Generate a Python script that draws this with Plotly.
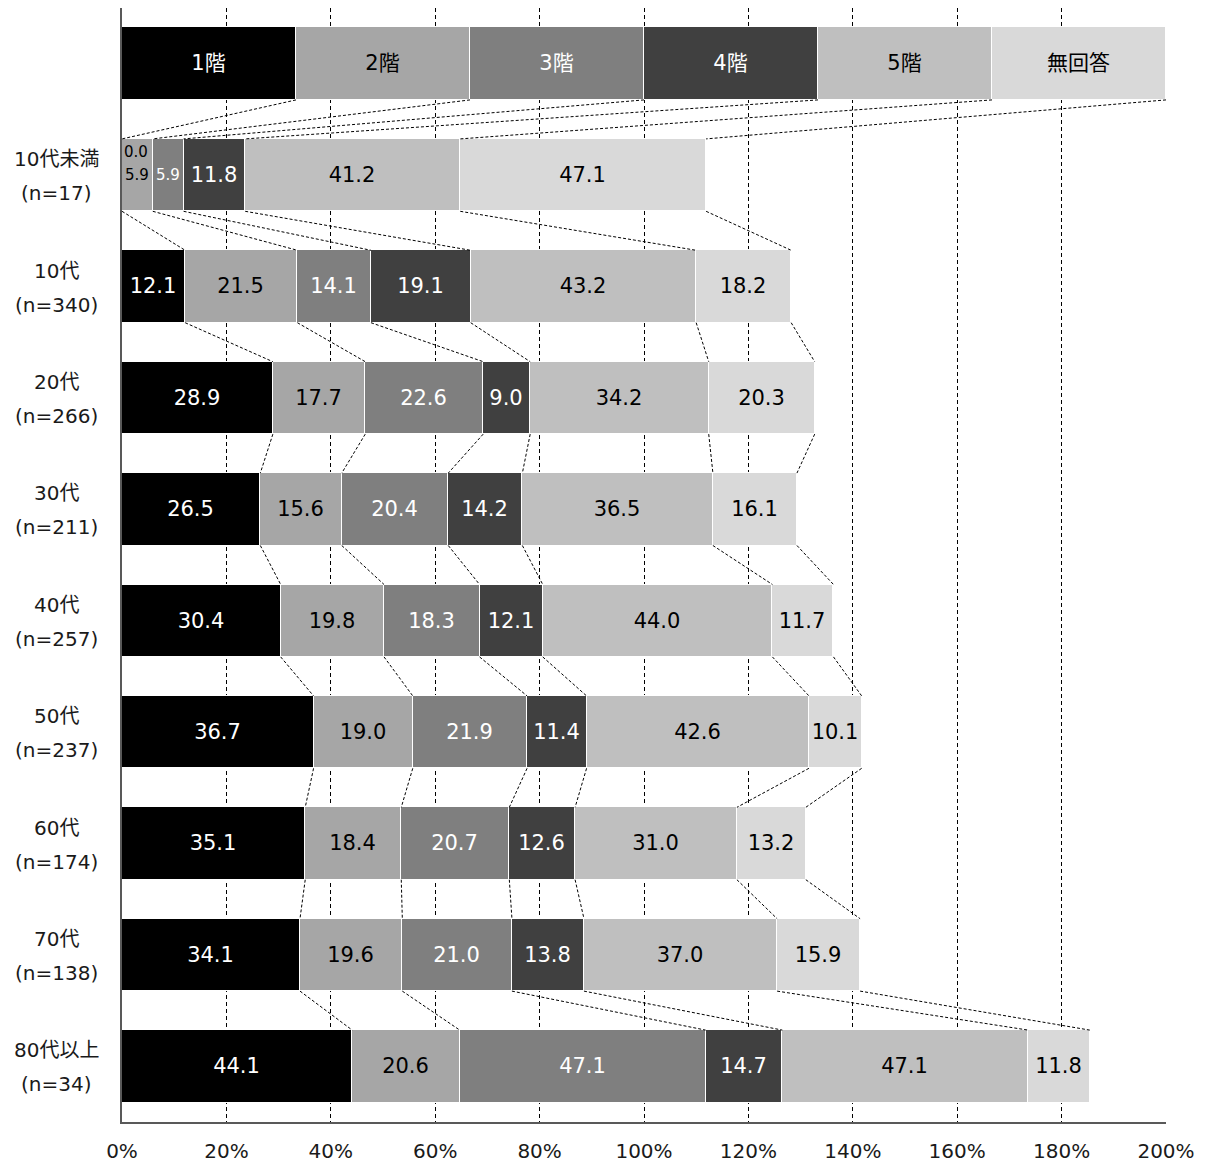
import plotly.graph_objects as go

# ---------------- data ----------------
series = ["1階", "2階", "3階", "4階", "5階", "無回答"]
groups = ["10代未満", "10代", "20代", "30代", "40代", "50代", "60代", "70代", "80代以上"]
counts = ["(n=17)", "(n=340)", "(n=266)", "(n=211)", "(n=257)", "(n=237)", "(n=174)", "(n=138)", "(n=34)"]

v_1f = [0.0, 12.1, 28.9, 26.5, 30.4, 36.7, 35.1, 34.1, 44.1]
v_2f = [5.9, 21.5, 17.7, 15.6, 19.8, 19.0, 18.4, 19.6, 20.6]
v_3f = [5.9, 14.1, 22.6, 20.4, 18.3, 21.9, 20.7, 21.0, 47.1]
v_4f = [11.8, 19.1, 9.0, 14.2, 12.1, 11.4, 12.6, 13.8, 14.7]
v_5f = [41.2, 43.2, 34.2, 36.5, 44.0, 42.6, 31.0, 37.0, 47.1]
v_na = [47.1, 18.2, 20.3, 16.1, 11.7, 10.1, 13.2, 15.9, 11.8]

x_tickvals = [0, 20, 40, 60, 80, 100, 120, 140, 160, 180, 200]
x_max = 200

# ---------------- styling ----------------
colors = ["#000000", "#a6a6a6", "#7f7f7f", "#404040", "#bfbfbf", "#d9d9d9"]
text_colors = ["#ffffff", "#000000", "#ffffff", "#ffffff", "#000000", "#000000"]
FONT = "DejaVu Sans, Noto Sans CJK JP, sans-serif"
BAR_W = 0.65
LABEL_SIZE = 21

values = [v_1f, v_2f, v_3f, v_4f, v_5f, v_na]
n_series = len(series)
header_w = x_max / n_series          # legend row spans the full axis
ypos = list(range(len(groups) + 1))  # 0 = legend row, 1.. = groups

# labels that are too small for in-bar text in the first group are drawn as annotations
small_first_row = {0, 1, 2}

fig = go.Figure()
for k, (name, vals) in enumerate(zip(series, values)):
    xs = [header_w] + vals
    texts = [name] + [f"{v:.1f}" for v in vals]
    if k in small_first_row:
        texts[1] = ""
    fig.add_trace(go.Bar(
        x=xs, y=ypos, orientation="h", name=name,
        width=BAR_W,
        marker=dict(color=colors[k], line=dict(color="#ffffff", width=1)),
        text=texts, textposition="inside", insidetextanchor="middle",
        textangle=0, constraintext="none",
        textfont=dict(color=text_colors[k], size=LABEL_SIZE, family=FONT),
        hoverinfo="skip", showlegend=False,
    ))

# cumulative boundaries for each row (legend row first)
rows = [[header_w] * n_series] + [[values[k][i] for k in range(n_series)] for i in range(len(groups))]
cums = []
for r in rows:
    c, acc = [], 0.0
    for v in r:
        acc += v
        c.append(acc)
    cums.append(c)

cx, cy = [], []
for r in range(len(cums) - 1):
    for k in range(n_series):
        cx += [cums[r][k], cums[r + 1][k], None]
        cy += [r + BAR_W / 2, r + 1 - BAR_W / 2, None]
fig.add_trace(go.Scatter(
    x=cx, y=cy, mode="lines",
    line=dict(color="#000000", width=1, dash="3px,2px"),
    hoverinfo="skip", showlegend=False,
))

annotations = []
# small labels in the first group
annotations.append(dict(x=0, y=1, xref="x", yref="y", text=f"{v_1f[0]:.1f}", showarrow=False,
                        xanchor="left", yshift=23, xshift=0,
                        font=dict(size=15, color="#000000", family=FONT)))
annotations.append(dict(x=v_1f[0] + v_2f[0] / 2, y=1, xref="x", yref="y", text=f"{v_2f[0]:.1f}",
                        showarrow=False, font=dict(size=15, color="#000000", family=FONT)))
annotations.append(dict(x=v_1f[0] + v_2f[0] + v_3f[0] / 2, y=1, xref="x", yref="y",
                        text=f"{v_3f[0]:.1f}", showarrow=False,
                        font=dict(size=15, color="#ffffff", family=FONT)))
# row labels (two lines)
for i, (g, n) in enumerate(zip(groups, counts)):
    for txt, sh in ((g, 16), (n, -18)):
        annotations.append(dict(x=-0.0632, y=i + 1, xref="paper", yref="y", text=txt,
                                showarrow=False, xanchor="center", yshift=sh,
                                font=dict(size=20, color="#1a1a1a", family=FONT)))

fig.update_layout(
    width=1210, height=1165,
    margin=dict(l=122, r=44, t=8, b=43, autoexpand=False),
    barmode="stack", bargap=0,
    uniformtext=dict(mode="show", minsize=LABEL_SIZE),
    plot_bgcolor="#ffffff", paper_bgcolor="#ffffff",
    font=dict(family=FONT, size=20, color="#1a1a1a"),
    annotations=annotations,
    xaxis=dict(
        range=[0, x_max], tickvals=x_tickvals,
        ticktext=[f"{t}%" for t in x_tickvals],
        showgrid=True, gridcolor="#000000", gridwidth=1, griddash="4px,3px",
        zeroline=False, showline=True, linecolor="#595959", linewidth=1.5,
        ticks="outside", ticklen=10, tickcolor="rgba(0,0,0,0)",
        tickfont=dict(size=20, color="#1a1a1a", family=FONT),
        automargin=False, fixedrange=True,
    ),
    yaxis=dict(
        range=[len(groups) + 0.5, -0.5], showticklabels=False, showgrid=False,
        zeroline=False, showline=True, linecolor="#595959", linewidth=1.5,
        automargin=False, fixedrange=True,
    ),
)

fig.write_html("out.html", config={"displayModeBar": False},
               post_script="document.body.style.margin='0';")
